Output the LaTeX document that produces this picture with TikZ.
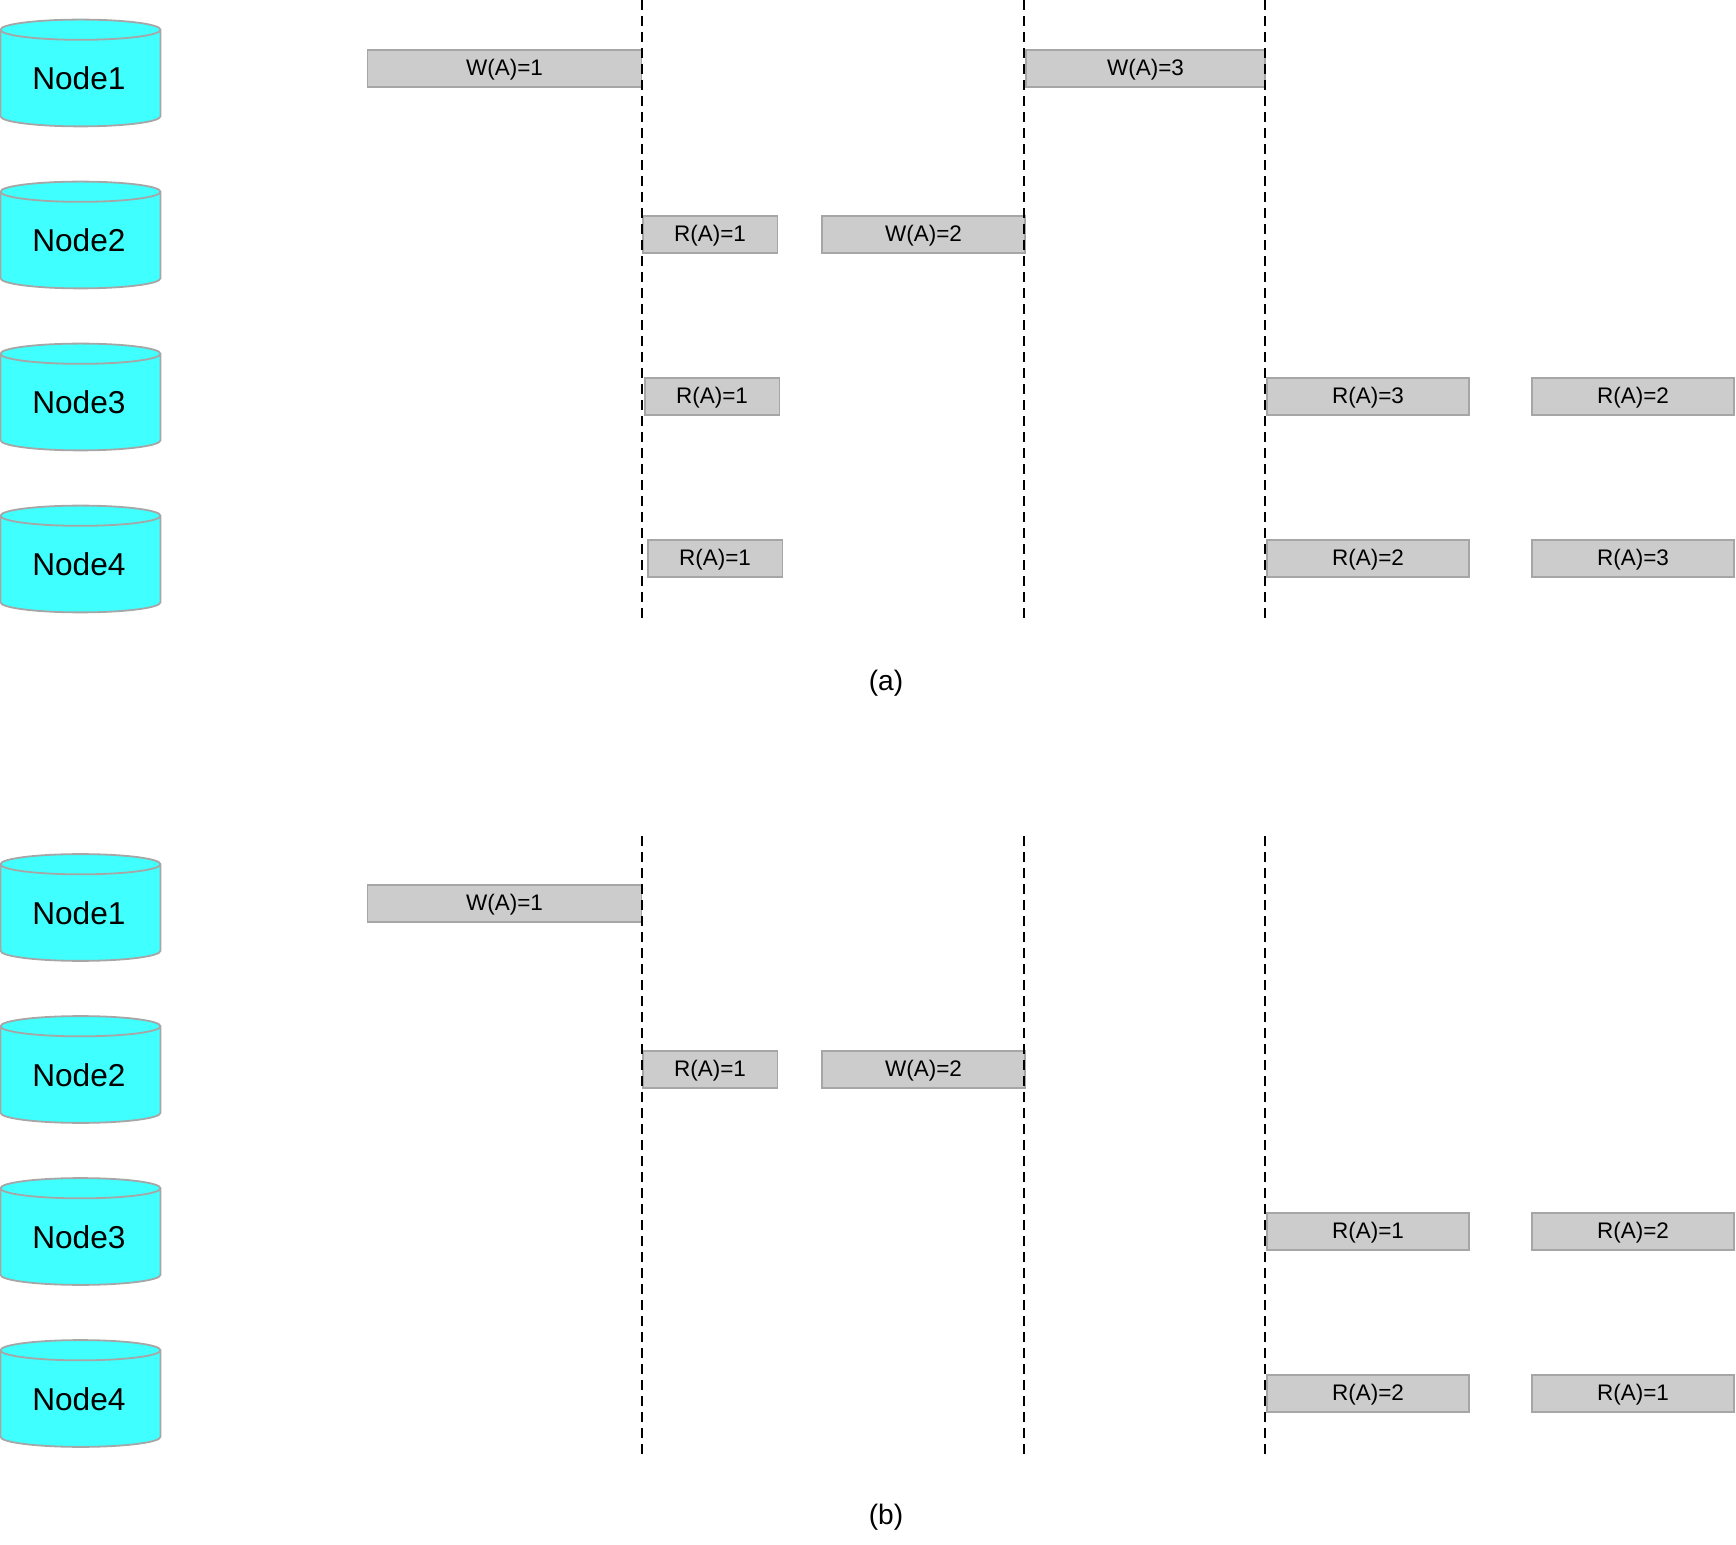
\documentclass[tikz,border=0pt]{standalone}
\usepackage{fontspec}
\setmainfont{Liberation Sans}
\usetikzlibrary{shapes.geometric}
\definecolor{diskcolor}{RGB}{63, 255, 255}
\definecolor{opcolor}{RGB}{204, 204, 204}
\definecolor{edgecolor}{RGB}{166, 166, 166}
\tikzset{
  disk/.style={cylinder, shape border rotate=90, aspect=0.21, draw=edgecolor, fill=diskcolor, line width=0.45mm,
    minimum width=40mm, minimum height=26.7mm, inner sep=0pt, font=\fontsize{22.5pt}{27pt}\selectfont,
    execute at end node={\hspace{0.8mm}}},
  opbox/.style={draw=edgecolor, fill=opcolor, line width=0.45mm, inner sep=0pt, minimum height=9.1mm,
    text height=11.7pt, text depth=1.8pt, font=\fontsize{16pt}{19pt}\selectfont},
  wide/.style={opbox, minimum width=50.6mm},
  narrow/.style={opbox, minimum width=33.7mm},
  caption/.style={font=\fontsize{20pt}{24pt}\selectfont},
  barrier/.style={draw=black, dashed, line width=0.45mm, dash pattern=on 2.5mm off 1.5mm},
}

\begin{document}
\begin{tikzpicture}[x=0.25mm, y=-0.25mm]
        \useasboundingbox (0, 0) rectangle (1736, 1544);

        % Panel (a) {{{
        \node[disk] (a1) at (80.5, 78.5) {Node1};
        \node[disk] (a2) at (80.5, 240.5) {Node2};
        \node[disk] (a3) at (80.5, 402.5) {Node3};
        \node[disk] (a4) at (80.5, 564.5) {Node4};

        \node[opbox, minimum width=68.5mm] (aw1) at (504.5, 68.5) {W(A)=1};
        \node[narrow] (ar21) at (710, 234.5) {R(A)=1};
        \node[wide] (aw2) at (923.5, 234.5) {W(A)=2};
        \node[narrow] (ar31) at (712, 396.5) {R(A)=1};
        \node[narrow] (ar41) at (715, 558.5) {R(A)=1};
        \node[opbox, minimum width=59.6mm] (aw3) at (1145.5, 68.5) {W(A)=3};
        \node[wide] (ar33) at (1368, 396.5) {R(A)=3};
        \node[wide] (ar32) at (1633, 396.5) {R(A)=2};
        \node[wide] (ar42) at (1368, 558.5) {R(A)=2};
        \node[wide] (ar43) at (1633, 558.5) {R(A)=3};

        \coordinate (at1) at (642, 0);
        \coordinate (ab1) at (642, 618);
        \coordinate (at2) at (1024, 0);
        \coordinate (ab2) at (1024, 618);
        \coordinate (at3) at (1265, 0);
        \coordinate (ab3) at (1265, 618);
        \draw[barrier] (at1) -- (ab1);
        \draw[barrier] (at2) -- (ab2);
        \draw[barrier] (at3) -- (ab3);

        \node[caption] (capa) at (886, 683) {(a)};
        % }}}

        % Panel (b) {{{
        \node[disk] (b1) at (80.5, 913) {Node1};
        \node[disk] (b2) at (80.5, 1075) {Node2};
        \node[disk] (b3) at (80.5, 1237) {Node3};
        \node[disk] (b4) at (80.5, 1399) {Node4};

        \node[opbox, minimum width=68.5mm] (bw1) at (504.5, 903.5) {W(A)=1};
        \node[narrow] (br21) at (710, 1069.5) {R(A)=1};
        \node[wide] (bw2) at (923.5, 1069.5) {W(A)=2};
        \node[wide] (br31) at (1368, 1231.5) {R(A)=1};
        \node[wide] (br32) at (1633, 1231.5) {R(A)=2};
        \node[wide] (br42) at (1368, 1393.5) {R(A)=2};
        \node[wide] (br41) at (1633, 1393.5) {R(A)=1};

        \coordinate (bt1) at (642, 836);
        \coordinate (bb1) at (642, 1454);
        \coordinate (bt2) at (1024, 836);
        \coordinate (bb2) at (1024, 1454);
        \coordinate (bt3) at (1265, 836);
        \coordinate (bb3) at (1265, 1454);
        \draw[barrier] (bt1) -- (bb1);
        \draw[barrier] (bt2) -- (bb2);
        \draw[barrier] (bt3) -- (bb3);

        \node[caption] (capb) at (886, 1517) {(b)};
        % }}}
\end{tikzpicture}
\end{document}
